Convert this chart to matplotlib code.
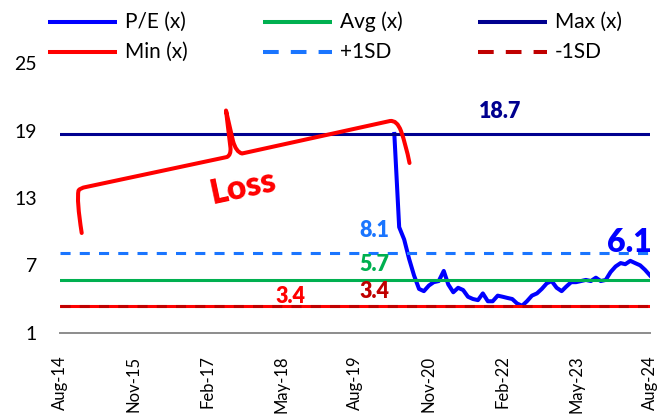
import matplotlib
matplotlib.use("Agg")
import matplotlib.pyplot as plt
import pandas as pd
from matplotlib.path import Path
from matplotlib.patches import PathPatch
from matplotlib.lines import Line2D

plt.rcParams['font.family'] = ['Lato', 'DejaVu Sans']

# ---------------- data ----------------
pe_dates = pd.date_range('2020-04-01', '2024-08-01', freq='MS')
pe_values = [18.7, 10.4, 9.3, 7.6, 6.1, 4.9, 4.7, 5.2, 5.5, 5.6,
             6.5, 5.3, 4.6, 5.0, 4.8, 4.2, 4.0, 3.9, 4.5, 3.8,
             3.8, 4.3, 4.2, 4.1, 4.0, 3.6, 3.4, 3.8, 4.3, 4.5,
             4.9, 5.4, 5.6, 5.0, 4.7, 5.1, 5.5, 5.5, 5.6, 5.7,
             5.6, 5.9, 5.6, 5.7, 6.4, 6.9, 7.2, 7.1, 7.4, 7.2,
             7.0, 6.6, 6.1]
avg_val = 5.7
max_val = 18.7
min_val = 3.4
plus_sd = 8.1
minus_sd = 3.4

x_start = pd.Timestamp('2014-08-01')
x_end = pd.Timestamp('2024-08-01')
tick_dates = pd.date_range('2014-08-01', '2024-08-01', freq='15MS')
tick_labels = ['Aug-14', 'Nov-15', 'Feb-17', 'May-18', 'Aug-19',
               'Nov-20', 'Feb-22', 'May-23', 'Aug-24']
y_ticks = [1, 7, 13, 19, 25]

# ---------------- colours ----------------
C_PE = '#0000FF'
C_AVG = '#00B050'
C_MAX = '#00008F'
C_MIN = '#FF0000'
C_P1 = '#1A75FF'
C_M1 = '#C00000'

W, H = 670, 416
fig = plt.figure(figsize=(W / 100, H / 100), dpi=100)
ax = fig.add_axes([60 / W, 1 - 332.7 / H, 590 / W, (332.7 - 63.2) / H])

span = [x_start, x_end]
dash = (3.3, 3.0)
ax.plot(pe_dates, pe_values, color=C_PE, lw=2.9, solid_joinstyle='round', zorder=2)
ax.plot(span, [avg_val] * 2, color=C_AVG, lw=2.2, zorder=3)
ax.plot(span, [max_val] * 2, color=C_MAX, lw=2.2, zorder=3)
ax.plot(span, [min_val] * 2, color=C_MIN, lw=2.2, zorder=3)
ax.plot(span, [plus_sd] * 2, color=C_P1, lw=2.2, dashes=dash, zorder=3)
ax.plot(span, [minus_sd] * 2, color=C_M1, lw=2.2, dashes=dash, zorder=3)

ax.set_xlim(x_start, x_end)
ax.set_ylim(1, 25)
ax.set_yticks(y_ticks)
ax.set_yticklabels([str(v) for v in y_ticks], fontsize=14)
ax.set_xticks(tick_dates)
ax.set_xticklabels(tick_labels, rotation=90, fontsize=12)
ax.tick_params(axis='both', length=0)
ax.tick_params(axis='y', pad=16.5)
ax.tick_params(axis='x', pad=16.5)
for s in ['top', 'left', 'right']:
    ax.spines[s].set_visible(False)
ax.spines['bottom'].set_color('#8C8C8C')
ax.spines['bottom'].set_linewidth(1.4)

# ---------------- value labels ----------------
LW_TXT = 'heavy'
lab_x = pd.Timestamp('2019-12-01')
ax.annotate(f'{max_val:.1f}', (pd.Timestamp('2022-01-15'), max_val), xytext=(0, 16.5),
            textcoords='offset points', ha='center', va='center',
            fontsize=15.5, fontweight=LW_TXT, color=C_MAX)
ax.annotate(f'{plus_sd:.1f}', (lab_x, plus_sd), xytext=(0, 16),
            textcoords='offset points', ha='center', va='center',
            fontsize=15.5, fontweight=LW_TXT, color=C_P1)
ax.annotate(f'{avg_val:.1f}', (lab_x, avg_val), xytext=(0, 11),
            textcoords='offset points', ha='center', va='center',
            fontsize=15.5, fontweight=LW_TXT, color=C_AVG)
ax.annotate(f'{minus_sd:.1f}', (lab_x, minus_sd), xytext=(0, 10.5),
            textcoords='offset points', ha='center', va='center',
            fontsize=15.5, fontweight=LW_TXT, color=C_M1)
ax.annotate(f'{min_val:.1f}', (pd.Timestamp('2018-07-01'), min_val), xytext=(0, 7),
            textcoords='offset points', ha='center', va='center',
            fontsize=15.5, fontweight=LW_TXT, color=C_MIN)
ax.annotate(f'{pe_values[-1]:.1f}', (pe_dates[-1], pe_values[-1]), xytext=(-15, 24),
            textcoords='offset points', ha='center', va='center',
            fontsize=23, fontweight=LW_TXT, color=C_PE)

# ---------------- legend (manual, 3 columns x 2 rows) ----------------
def fx(x):
    return x / W

def fy(y):
    return 1 - y / H

legend_items = [
    ('P/E (x)', C_PE, None, 2.9), ('Avg (x)', C_AVG, None, 2.9), ('Max (x)', C_MAX, None, 2.9),
    ('Min (x)', C_MIN, None, 2.9), ('+1SD', C_P1, (3.9, 3.0), 2.9), ('-1SD', C_M1, (3.9, 3.0), 2.9),
]
col_x = [48, 263, 478]
row_y = [22, 52]
for i, (lab, col, ds, lw) in enumerate(legend_items):
    cx = col_x[i % 3]
    ry = row_y[i // 3]
    kw = dict(color=col, lw=lw, transform=fig.transFigure, solid_capstyle='butt')
    if ds is not None:
        kw['dashes'] = ds
    fig.add_artist(Line2D([fx(cx), fx(cx + 69)], [fy(ry), fy(ry)], **kw))
    fig.text(fx(cx + 77), fy(ry), lab, fontsize=15, va='center', ha='left', color='#000000')

# ---------------- "Loss" bracket annotation ----------------
pts = [(81.7, 233), (76.5, 200), (78.5, 190.5), (80, 188), (86, 187),
       (227, 157), (231, 155), (230.5, 148), (226, 110.5), (233, 141),
       (236, 152), (242, 153.5), (390, 121), (397, 120), (401, 131),
       (406, 145), (409.5, 163)]
codes = [Path.MOVETO, Path.CURVE3, Path.CURVE3, Path.CURVE3, Path.CURVE3,
         Path.LINETO, Path.CURVE3, Path.CURVE3, Path.LINETO, Path.LINETO,
         Path.CURVE3, Path.CURVE3, Path.LINETO, Path.CURVE3, Path.CURVE3,
         Path.CURVE3, Path.CURVE3]
bracket = Path([(fx(x), fy(y)) for x, y in pts], codes)
fig.add_artist(PathPatch(bracket, fill=False, edgecolor=C_MIN, lw=2.9,
                         transform=fig.transFigure, capstyle='round',
                         joinstyle='round', zorder=5))
fig.text(fx(243), fy(187), 'Loss', fontsize=24, fontweight=LW_TXT, color=C_MIN,
         rotation=12, ha='center', va='center', rotation_mode='anchor')

fig.savefig('out.png', dpi=100)
